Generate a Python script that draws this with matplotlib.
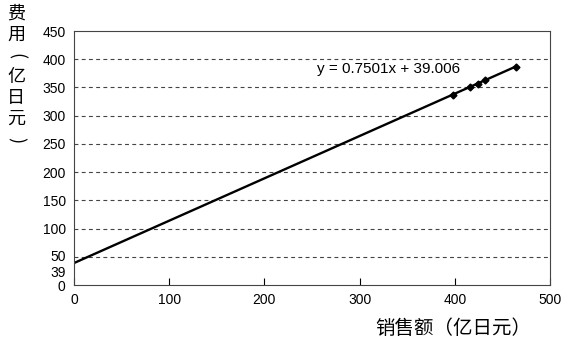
import matplotlib.pyplot as plt
import numpy as np
from matplotlib.transforms import offset_copy

plt.rcParams['font.family'] = ['Noto Sans CJK SC', 'DejaVu Sans']

# 数据
sales = [398, 416, 424, 432, 464]
costs = [337, 351, 357, 363, 387]
slope = 0.7501
intercept = 39.006
y_ticks = [0, 39, 50, 100, 150, 200, 250, 300, 350, 400, 450]
x_ticks = [0, 100, 200, 300, 400, 500]
y_title = ['费', '用', '(', '亿', '日', '元', ')']

fig = plt.figure(figsize=(5.66, 3.41), dpi=100)
ax = fig.add_axes([0.1307, 0.164, 0.841, 0.745])

# 趋势线
xl = np.linspace(0, max(sales), 50)
ax.plot(xl, slope * xl + intercept, color='black', linewidth=1.7)
ax.plot(sales, costs, 'D', color='black', markersize=3.5)

# 网格
for v in range(50, 450, 50):
    ax.axhline(v, color='#444444', linestyle=(0, (3.5, 3)), linewidth=0.8, zorder=0)

ax.set_xlim(0, 500)
ax.set_ylim(0, 450)
ax.set_xticks(x_ticks)
ax.set_yticks(y_ticks)
ax.tick_params(axis='x', direction='in', length=5, labelsize=10, pad=6)
ax.tick_params(axis='y', length=0, labelsize=10, pad=6)
for lab in ax.get_xticklabels() + ax.get_yticklabels():
    lab.set_family('Liberation Sans')
# 39 稍微往下挪, 免得和 50 重叠
for lab in ax.get_yticklabels():
    if lab.get_text() == '39':
        lab.set_transform(offset_copy(lab.get_transform(), fig=fig, y=-6, units='points'))
    if lab.get_text() == '50':
        lab.set_transform(offset_copy(lab.get_transform(), fig=fig, y=1, units='points'))
for s in ax.spines.values():
    s.set_linewidth(0.8)
    s.set_color('#444444')

ax.text(0.51, 0.835, 'y = 0.7501x + 39.006', transform=ax.transAxes, fontsize=11,
        family='Liberation Sans')

# 轴标题 (竖排)
for i, ch in enumerate(y_title):
    rot = -90 if ch in '()' else 0
    fig.text(16 / 566, 1 - (14 + 21 * i) / 341, ch, ha='center', va='center', fontsize=13,
             rotation=rot)
fig.text(531 / 566, 1 - 328 / 341, '销售额（亿日元）', ha='right', va='center', fontsize=14)

fig.savefig('out.png', dpi=100)
